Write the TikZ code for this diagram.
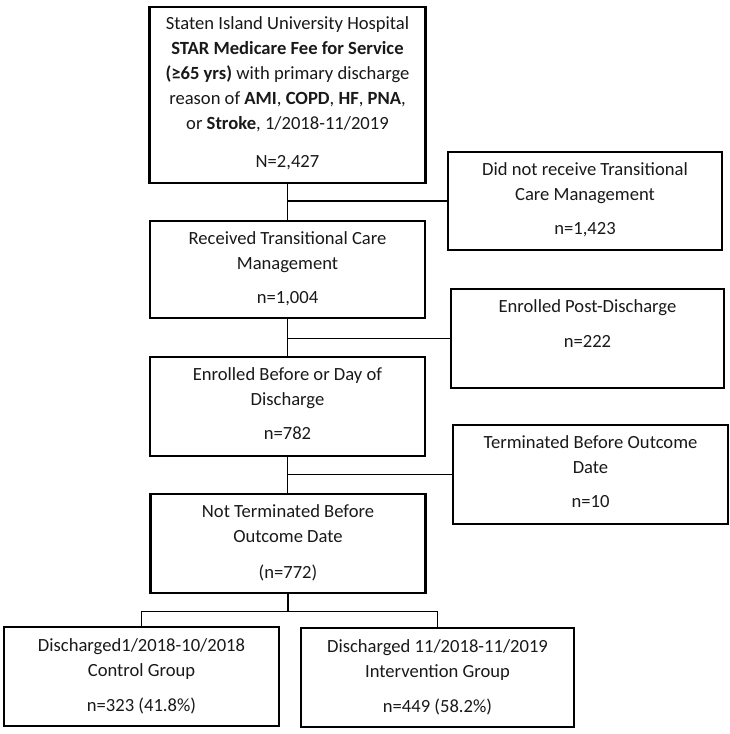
\documentclass[tikz,border=0pt]{standalone}
\usepackage{fontspec}
\setmainfont{Carlito}
\begin{document}
\begin{tikzpicture}[x=1pt,y=-1pt,
  mainbox/.style={draw=black, line width=2.4pt, inner sep=0pt, minimum width=275pt, minimum height=99pt},
  sidebox/.style={draw=black, line width=1.8pt, inner sep=0pt, minimum width=274pt, minimum height=99pt},
  txt/.style={anchor=north, inner sep=0pt, align=center, font=\fontsize{18.6}{25}\selectfont, text=black!90},
  conn/.style={draw=black, line width=1.4pt}]
\useasboundingbox (0,0) rectangle (730,734);

% main column
\node[mainbox, minimum width=276pt, minimum height=176pt] (top) at (287.5,95) {};
\node[mainbox, minimum height=97pt] (b2) at (287.5,269.5) {};
\node[mainbox] (b3) at (287.5,406.5) {};
\node[mainbox] (b4) at (288,543.5) {};
% side boxes
\node[sidebox, minimum height=98pt] (s1) at (585,201) {};
\node[sidebox, minimum width=273pt] (s2) at (587.5,338.5) {};
\node[sidebox, minimum width=275pt] (s3) at (590.5,474.5) {};
% bottom boxes
\node[mainbox] (bl) at (141.5,676.5) {};
\node[mainbox, minimum width=273pt] (br) at (437.5,677.5) {};

% texts
\node[txt] (ttop) at ([yshift=-5.5pt]top.north) {\strut Staten Island University Hospital\\
  \textbf{STAR Medicare Fee for Service}\\
  \textbf{(≥65 yrs)} with primary discharge\\
  reason of \textbf{AMI}, \textbf{COPD}, \textbf{HF}, \textbf{PNA},\\
  or \textbf{Stroke}, 1/2018-11/2019\\[13pt]
  N=2,427};
\node[txt] (tb2) at ([yshift=-6.5pt]b2.north) {\strut Received Transitional Care\\Management\\[9pt]n=1,004};
\node[txt] (tb3) at ([yshift=-7pt]b3.north) {\strut Enrolled Before or Day of\\Discharge\\[9pt]n=782};
\node[txt] (tb4) at ([yshift=-6.5pt]b4.north) {\strut Not Terminated Before\\Outcome Date\\[11pt](n=772)};
\node[txt] (ts1) at ([yshift=-6.5pt]s1.north) {\strut Did not receive Transitional\\Care Management\\[9pt]n=1,423};
\node[txt] (ts2) at ([yshift=-6.5pt]s2.north) {\strut Enrolled Post-Discharge\\[10pt]n=222};
\node[txt] (ts3) at ([yshift=-6.5pt]s3.north) {\strut Terminated Before Outcome\\Date\\[9pt]n=10};
\node[txt] (tbl) at ([yshift=-7.5pt]bl.north) {\strut Discharged1/2018-10/2018\\Control Group\\[10pt]n=323 (41.8\%)};
\node[txt] (tbr) at ([yshift=-7.5pt]br.north) {\strut Discharged 11/2018-11/2019\\Intervention Group\\[10pt]n=449 (58.2\%)};

% connectors
\draw[conn] (top.south) -- (b2.north);
\draw[conn] (s1.west) -- (s1.west -| top.south);
\draw[conn] (b2.south) -- (b3.north);
\draw[conn] (s2.west) -- (s2.west -| b2.south);
\draw[conn] (b3.south) -- (b3.south |- b4.north);
\draw[conn] (s3.west) -- (s3.west -| b3.south);
\coordinate (split) at ([yshift=-17pt]b4.south);
\draw[conn] (b4.south) -- (split);
\draw[conn] (bl.north) |- (split) -| (br.north);
\end{tikzpicture}
\end{document}
